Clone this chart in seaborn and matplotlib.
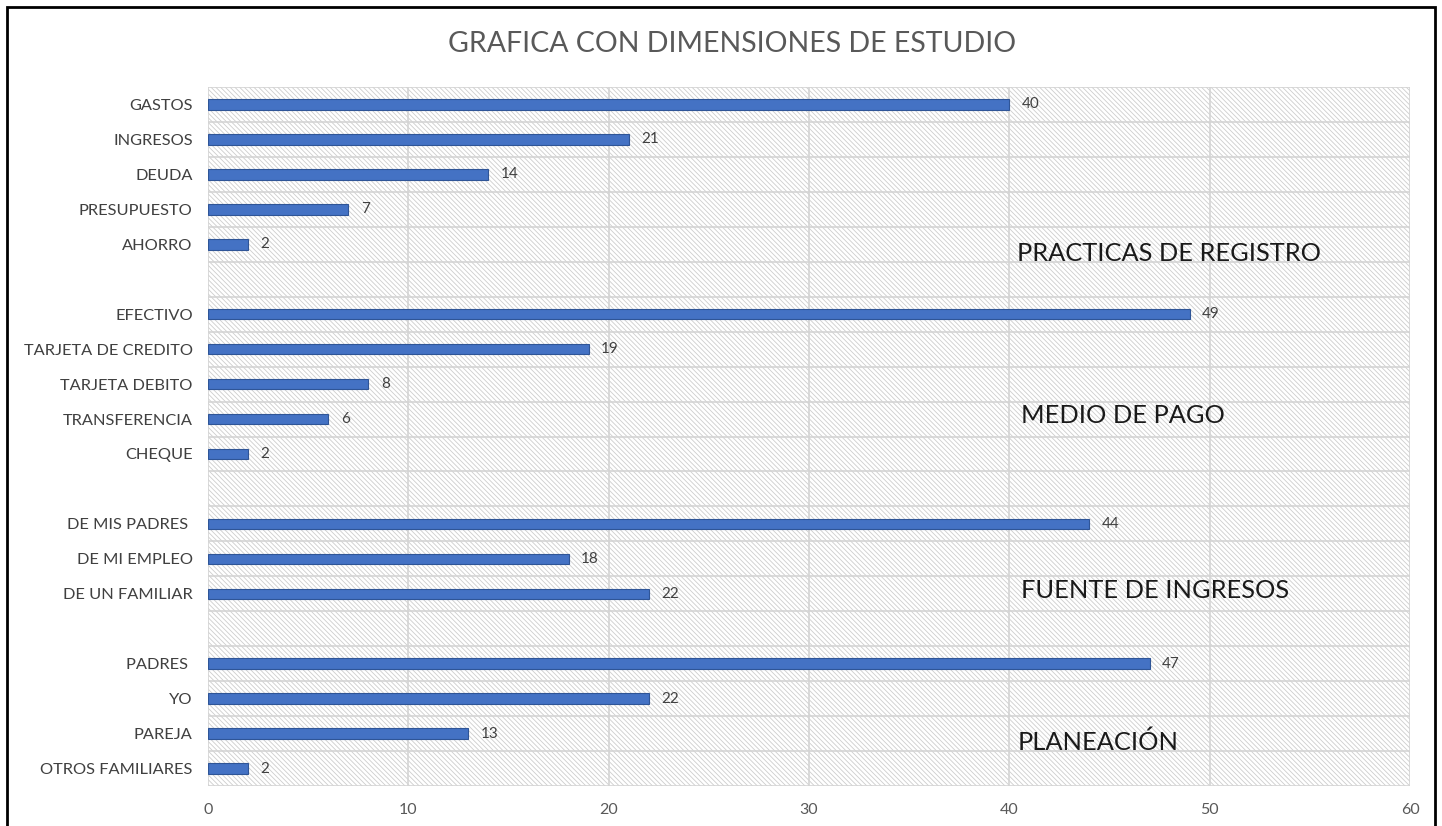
import numpy as np
import pandas as pd
import seaborn as sns
import matplotlib.pyplot as plt
from matplotlib.patches import Rectangle
from matplotlib.ticker import MultipleLocator, FixedLocator

# ---------- Data ----------
categories = [
    "GASTOS", "INGRESOS", "DEUDA", "PRESUPUESTO", "AHORRO", " ",
    "EFECTIVO", "TARJETA DE CREDITO", "TARJETA DEBITO", "TRANSFERENCIA", "CHEQUE", "  ",
    "DE MIS PADRES ", "DE MI EMPLEO", "DE UN FAMILIAR", "   ",
    "PADRES ", "YO", "PAREJA", "OTROS FAMILIARES",
]
values = [
    40, 21, 14, 7, 2, None,
    49, 19, 8, 6, 2, None,
    44, 18, 22, None,
    47, 22, 13, 2,
]
group_names = ["PRACTICAS DE REGISTRO", "MEDIO DE PAGO", "FUENTE DE INGRESOS", "PLANEACIÓN"]
group_rows = [4.25, 8.9, 13.9, 18.25]   # row position of group caption
group_x = [40.4, 40.6, 40.6, 40.4]
x_ticks = [0, 10, 20, 30, 40, 50, 60]
title = "GRAFICA CON DIMENSIONES DE ESTUDIO"

df = pd.DataFrame({"cat": categories, "val": values}).dropna()

# ---------- Style ----------
sns.set_style("white")
plt.rcParams["font.family"] = ["Lato", "DejaVu Sans"]
plt.rcParams["hatch.linewidth"] = 0.6

fig = plt.figure(figsize=(14.42, 8.26), dpi=100)
ax = fig.add_axes([208/1442, 1 - 786/826, (1410-208)/1442, (786-87)/826])

# hatched background
ax.add_patch(Rectangle((0, 0), 1, 1, transform=ax.transAxes, facecolor="white",
                       edgecolor="#cdcdcd", hatch="\\" * 7, lw=0, zorder=0))

sns.barplot(data=df, x="val", y="cat", order=categories, orient="h",
            color="#4472C4", saturation=1, width=0.3, edgecolor="#2F5597",
            linewidth=0.8, ax=ax, zorder=2)

for c in ax.containers:
    ax.bar_label(c, fmt="%g", padding=9, fontsize=11, color="#404040")

ax.set_xlim(0, 60)
ax.set_ylim(len(categories) - 0.5, -0.5)
ax.set_xlabel("")
ax.set_ylabel("")

ax.xaxis.set_major_locator(FixedLocator(x_ticks))
ax.yaxis.set_minor_locator(MultipleLocator(1, offset=0.5))
ax.grid(axis="x", which="major", color="#d4d4d4", lw=1.2)
ax.grid(axis="y", which="minor", color="#d4d4d4", lw=1.2)
ax.set_axisbelow(True)
for s in ax.spines.values():
    s.set_visible(False)

ax.tick_params(axis="x", length=0, pad=12, labelsize=11.5, labelcolor="#595959")
ax.tick_params(axis="y", which="major", length=0, pad=11, labelsize=11.8, labelcolor="#404040")
ax.tick_params(axis="y", which="minor", length=5, width=1.2, color="#d4d4d4")

for name, r, xg in zip(group_names, group_rows, group_x):
    ax.text(xg, r, name, fontsize=18.3, color="#1a1a1a", va="center", ha="left", zorder=3)

fig.text(732/1442, 1 - 44/826, title, ha="center", va="center", fontsize=20.5,
         color="#595959")

# outer frame
fig.patches.append(Rectangle((7/1442, -0.05), (1435-7)/1442, 1.05 - 7/826, transform=fig.transFigure,
                             fill=False, edgecolor="black", lw=2, figure=fig))

fig.savefig("out.png", dpi=100)
